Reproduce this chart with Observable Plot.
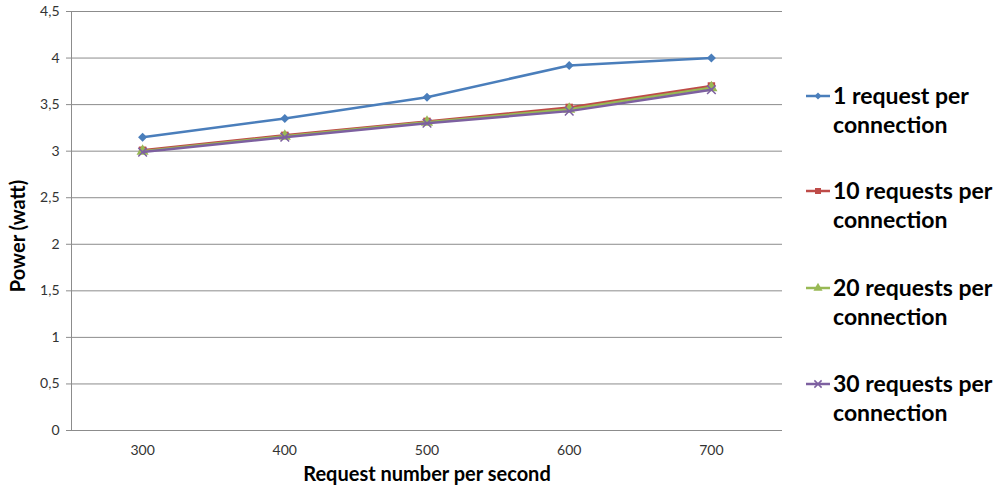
<!DOCTYPE html>
<html>
<head>
<meta charset="utf-8">
<script src="https://cdn.jsdelivr.net/npm/d3@7"></script>
<script src="https://cdn.jsdelivr.net/npm/@observablehq/plot@0.6"></script>
<style>
  html, body { margin: 0; padding: 0; background: #fff; }
  #wrap { position: relative; width: 1000px; height: 488px; font-family: Lato, "Open Sans", sans-serif; }
  #legend { position: absolute; left: 806px; top: 0; }
  .item { position: absolute; left: 0; width: 200px; display: flex; align-items: flex-start; font-weight: bold; font-size: 23px; line-height: 29px; color: #000; }
  .item svg { flex: none; margin-top: 8px; margin-right: 3px; }
</style>
</head>
<body>
<div id="wrap"></div>
<script>
const rates = [300, 400, 500, 600, 700];
const seriesNames = ["1 request per connection", "10 requests per connection", "20 requests per connection", "30 requests per connection"];
const s1 = [3.15, 3.35, 3.58, 3.92, 4.00];
const s10 = [3.01, 3.17, 3.32, 3.47, 3.70];
const s20 = [3.00, 3.16, 3.31, 3.45, 3.68];
const s30 = [2.99, 3.15, 3.30, 3.43, 3.66];
const yTicks = [0, 0.5, 1, 1.5, 2, 2.5, 3, 3.5, 4, 4.5];
const colors = ["#4A7EBB", "#BE4B48", "#98B954", "#7D60A0"];
const symbols = ["diamond", "square", "triangle", "times"];

const allSeries = [s1, s10, s20, s30];
const data = [];
allSeries.forEach((vals, i) => vals.forEach((v, j) => data.push({series: seriesNames[i], rate: rates[j], power: v})));

const fmt = d => String(d).replace(".", ",");

const marks = [
  Plot.gridY(yTicks, {stroke: "#8c8c8c", strokeOpacity: 1, strokeWidth: 1}),
  Plot.ruleX([250], {stroke: "#8c8c8c"}),
  Plot.ruleY([0], {stroke: "#8c8c8c"}),
  Plot.axisY(yTicks, {tickFormat: fmt, tickSize: 5, tickPadding: 7, stroke: "#8c8c8c", fontSize: 14, fill: "#333", label: null}),
  Plot.axisX(rates, {tickSize: 0, tickPadding: 15, fontSize: 14, fill: "#333", label: null}),
  Plot.text(["Power (watt)"], {frameAnchor: "left", textAnchor: "middle", lineAnchor: "middle", rotate: -90, dy: 15, dx: -53, fontSize: 20, fontWeight: "bold", fill: "#000"}),
  Plot.text(["Request number per second"], {frameAnchor: "bottom", lineAnchor: "middle", dy: 44, fontSize: 20, fontWeight: "bold", fill: "#000"})
];
seriesNames.forEach((name, i) => {
  const d = data.filter(r => r.series === name);
  marks.push(Plot.line(d, {x: "rate", y: "power", stroke: colors[i], strokeWidth: 2.5}));
  if (symbols[i] === "times") {
    marks.push(Plot.dot(d, {x: "rate", y: "power", symbol: "times", stroke: colors[i], strokeWidth: 1.5, r: 4}));
  } else if (symbols[i] === "diamond") {
    marks.push(Plot.dot(d, {x: "rate", y: "power", symbol: "square", rotate: 45, fill: colors[i], stroke: "none", r: 3.6}));
  } else {
    marks.push(Plot.dot(d, {x: "rate", y: "power", symbol: symbols[i], fill: colors[i], stroke: "none", r: symbols[i] === "triangle" ? 4.5 : 4.2}));
  }
});

const chart = Plot.plot({
  width: 1000,
  height: 488,
  marginLeft: 71,
  marginRight: 218,
  marginTop: 11,
  marginBottom: 58,
  style: {fontFamily: "Lato, 'Open Sans', sans-serif", background: "#fff"},
  x: {type: "linear", domain: [250, 750]},
  y: {domain: [0, 4.5]},
  marks
});
const wrap = document.getElementById("wrap");
wrap.appendChild(chart);

const legend = document.createElement("div");
legend.id = "legend";
const tops = [81, 176, 273, 369];
seriesNames.forEach((name, i) => {
  const item = document.createElement("div");
  item.className = "item";
  item.style.top = tops[i] + "px";
  const sw = d3.create("svg").attr("width", 24).attr("height", 14);
  sw.append("line").attr("x1", 0).attr("x2", 24).attr("y1", 7).attr("y2", 7).attr("stroke", colors[i]).attr("stroke-width", 2.5);
  const sym = {diamond: d3.symbolSquare, square: d3.symbolSquare, triangle: d3.symbolTriangle, times: d3.symbolTimes}[symbols[i]];
  const p = sw.append("path").attr("transform", "translate(12,7)" + (symbols[i] === "diamond" ? " rotate(45)" : "")).attr("d", d3.symbol(sym, symbols[i] === "diamond" ? 24 : 36)());
  if (symbols[i] === "times") p.attr("fill", "none").attr("stroke", colors[i]).attr("stroke-width", 1.5);
  else p.attr("fill", colors[i]);
  item.appendChild(sw.node());
  const label = document.createElement("div");
  const words = name.split(" ");
  label.innerHTML = words.slice(0, -1).join(" ") + "<br>" + words[words.length - 1];
  item.appendChild(label);
  legend.appendChild(item);
});
wrap.appendChild(legend);
</script>
</body>
</html>
